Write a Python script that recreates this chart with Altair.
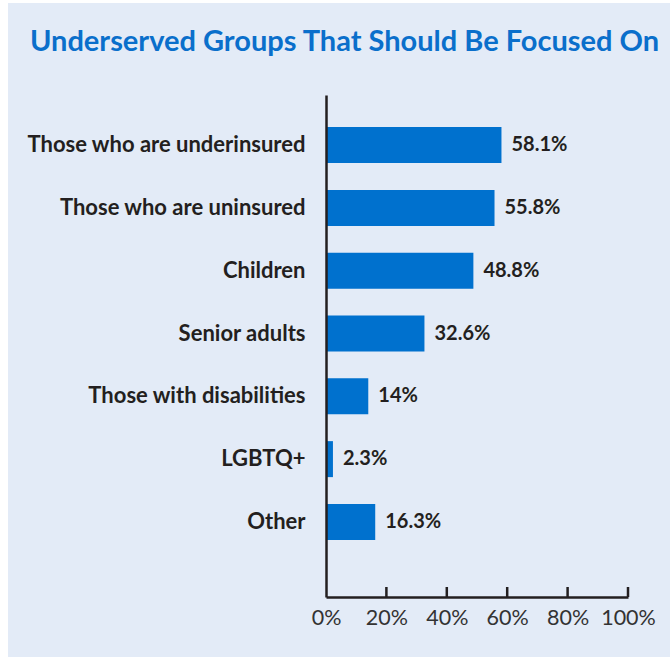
import altair as alt
import pandas as pd

# Survey results: share of respondents naming each group
groups = [
    "Those who are underinsured",
    "Those who are uninsured",
    "Children",
    "Senior adults",
    "Those with disabilities",
    "LGBTQ+",
    "Other",
]
shares = [58.1, 55.8, 48.8, 32.6, 14, 2.3, 16.3]
tick_values = [0, 20, 40, 60, 80, 100]

BLUE = "#0071CE"
INK = "#231F20"
PANEL = "#E3EBF7"
W, H = 302, 502

df = pd.DataFrame({"group": groups, "share": shares})
ticks = pd.DataFrame({"t": tick_values[1:]})

y_enc = alt.Y(
    "group:N",
    sort=groups,
    title=None,
    scale=alt.Scale(paddingInner=0.427, paddingOuter=0.71, align=0.36),
    axis=alt.Axis(
        domain=True, domainColor=INK, domainWidth=2.5, ticks=False, zindex=2,
        labelFont="Lato", labelFontWeight="bold", labelFontSize=22,
        labelColor=INK, labelPadding=21, labelLimit=400,
    ),
)
x_enc = alt.X(
    "share:Q",
    title=None,
    scale=alt.Scale(domain=[0, 100], nice=False),
    axis=alt.Axis(
        values=tick_values, domain=True, domainColor=INK, domainWidth=2.5,
        ticks=False, grid=False, labelExpr="datum.value + '%'", zindex=2,
        labelFont="Lato", labelFontSize=21.5, labelColor="#333333",
        labelPadding=10, labelFlush=False,
    ),
)

# Light panel behind everything
panel = alt.Chart(df).mark_rect(color=PANEL).encode(
    x=alt.value(-318), x2=alt.value(344), y=alt.value(-92), y2=alt.value(562)
)

bars = alt.Chart(df).mark_bar(color=BLUE).encode(x=x_enc, y=y_enc)

labels = (
    alt.Chart(df)
    .transform_calculate(label="datum.share + '%'")
    .mark_text(align="left", baseline="middle", dx=10, font="Lato",
               fontWeight="bold", fontSize=20, color=INK)
    .encode(x="share:Q", y=alt.Y("group:N", sort=groups), text="label:N")
)

# Short inward ticks on the value axis
tick_marks = alt.Chart(ticks).mark_rule(color=INK, strokeWidth=2.5).encode(
    x="t:Q", y=alt.value(H - 10), y2=alt.value(H)
)

chart = (
    alt.layer(panel, bars, labels, tick_marks)
    .properties(
        width=W,
        height=H,
        padding={"left": 326, "top": 95, "right": 42, "bottom": 60},
        autosize=alt.AutoSizeParams(type="none"),
        background="white",
        title=alt.TitleParams(
            "Underserved Groups That Should Be Focused On",
            anchor="start", frame="group", dx=-296, offset=-77,
            baseline="alphabetic", font="Lato", fontWeight="bold",
            fontSize=29, color="#0A6FCB",
        ),
    )
    .configure_view(stroke=None)
)

chart.save("out.html", embed_options={"renderer": "svg", "actions": False})
